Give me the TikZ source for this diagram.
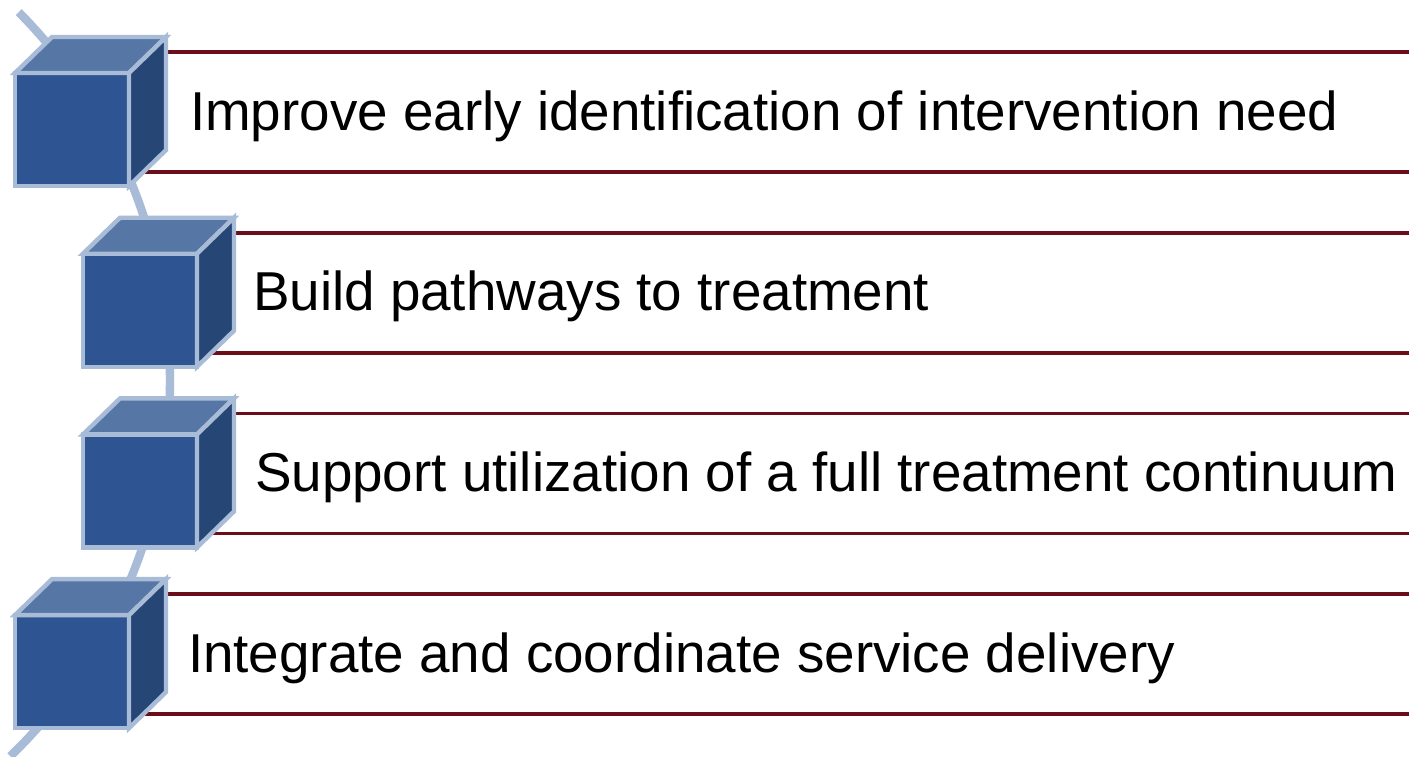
\documentclass[tikz,border=0pt]{standalone}
\usepackage{fontspec}
\setmainfont{Liberation Sans}
\definecolor{cubefront}{HTML}{2E5591}
\definecolor{cubetop}{HTML}{5676A6}
\definecolor{cuberight}{HTML}{264675}
\definecolor{cubeedge}{HTML}{A8BBD7}
\definecolor{rulered}{HTML}{6B0E1A}
\begin{document}
\begin{tikzpicture}[x=0.5pt,y=-0.5pt,font=\fontsize{27.4}{33}\selectfont,line join=miter]
	\tikzset{every node/.style={inner sep=0pt,outer sep=0pt},
		rule/.style={draw=rulered,line width=1.9pt},
		cubeface/.style={draw=cubeedge,line width=2.2pt}}
	\useasboundingbox (0,0) rectangle (1409,756);
	% curved spine behind the cubes
	\begin{scope}
		\clip (0,0) rectangle (1409,756);
		\draw[cubeedge,line width=4.2pt] (-353,380) ++(-44.7:523) arc[start angle=-44.7,end angle=46,radius=523];
	\end{scope}
	\foreach \i/\cx/\tx/\txt in {0/15/190/{Improve early identification of intervention need},
		1/83/253/{Build pathways to treatment},
		2/83/255/{Support utilization of a full treatment continuum},
		3/15/188/{Integrate and coordinate service delivery}}{
		\pgfmathsetmacro{\y}{180.7*\i}
		\draw[rule] (\cx+75,\y+52)--(1409,\y+52);
		\draw[rule] (\cx+75,\y+172)--(1409,\y+172);
		\node[anchor=base west] (goal\i) at (\tx,\y+130) {\txt};
		% cube
		\pgfmathsetmacro{\cy}{\y+73}
		\fill[cubefront] (\cx,\cy) rectangle (\cx+114,\cy+113);
		\draw[cubeface,fill=cubetop] (\cx,\cy)--(\cx+37,\cy-36)--(\cx+151,\cy-36)--(\cx+114,\cy)--cycle;
		\draw[cubeface,fill=cuberight] (\cx+114,\cy)--(\cx+151,\cy-36)--(\cx+151,\cy+77)--(\cx+114,\cy+113)--cycle;
		\draw[cubeface] (\cx,\cy) rectangle (\cx+114,\cy+113);
	}
\end{tikzpicture}
\end{document}
